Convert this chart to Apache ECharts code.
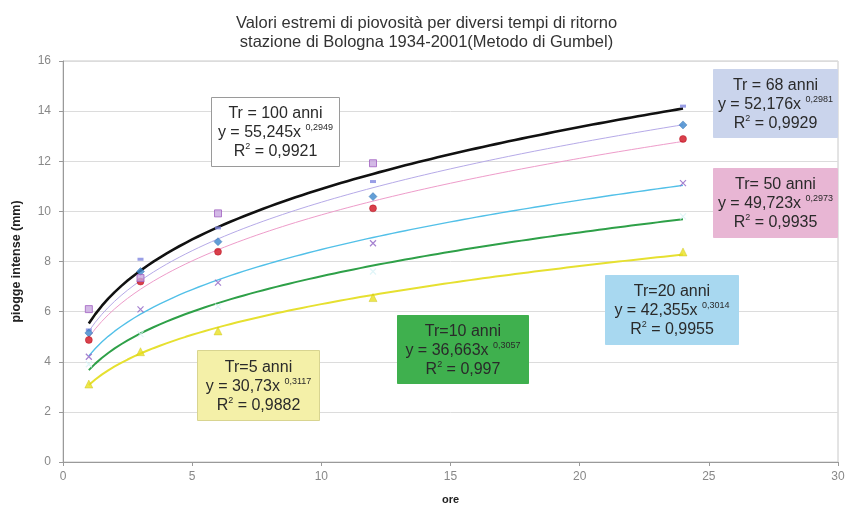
<!DOCTYPE html>
<html>
<head>
<meta charset="utf-8">
<script src="https://cdn.jsdelivr.net/npm/echarts@6/dist/echarts.min.js"></script>
<style>
  html, body { margin: 0; padding: 0; background: #fff; }
  #chart { width: 853px; height: 505px; }
</style>
</head>
<body>
<div id="chart"></div>
<script>
// Durations (hours) at which the annual maxima were evaluated
var durations = [1, 3, 6, 12, 24];

// Return periods and their Gumbel values (mm)
var returnLabels = ['Tr = 100 anni', 'Tr = 68 anni', 'Tr= 50 anni', 'Tr=20 anni', 'Tr=10 anni', 'Tr=5 anni'];
var tr100 = [5.27, 8.09, 9.34, 11.19, 14.2];
var tr68  = [5.15, 7.6, 8.79, 10.59, 13.45];
var tr50  = [4.87, 7.2, 8.39, 10.12, 12.89];
var tr20  = [4.2, 6.09, 7.16, 8.73, 11.13];
var tr10  = [3.9, 5.1, 6.2, 7.6, 9.8];
var tr5   = [3.11, 4.4, 5.23, 6.56, 8.38];
// extra points plotted without a trend line
var extraDur = [1, 3, 6, 12];
var extraVal = [6.1, 7.34, 9.92, 11.92];

// Power-law fits y = a x^b as printed in the boxes (a in tenths of the axis unit)
var fitA  = [55.245, 52.176, 49.723, 42.355, 36.663, 30.73];
var fitB  = [0.2949, 0.2981, 0.2973, 0.3014, 0.3057, 0.3117];
var fitR2 = ['0,9921', '0,9929', '0,9935', '0,9955', '0,997', '0,9882'];
var fitAtxt = ['55,245', '52,176', '49,723', '42,355', '36,663', '30,73'];
var fitBtxt = ['0,2949', '0,2981', '0,2973', '0,3014', '0,3057', '0,3117'];

var xTicks = [0, 5, 10, 15, 20, 25, 30];
var yTicks = [0, 2, 4, 6, 8, 10, 12, 14, 16];

var FONT = '"Liberation Sans", Arial, sans-serif';

function pairs(xs, ys) { return xs.map(function (x, i) { return [x, ys[i]]; }); }

function fitCurve(k) {
  var pts = [];
  for (var x = 1; x <= 24.0001; x += 0.25) {
    pts.push([x, fitA[k] / 10 * Math.pow(x, fitB[k])]);
  }
  return pts;
}

var lineColors = ['#111111', '#b6aae8', '#ee9cca', '#52c0e8', '#2ea048', '#e6e030'];
var lineWidths = [2.6, 1, 1, 1.4, 2, 2];

var series = [];
lineColors.forEach(function (c, k) {
  series.push({
    type: 'line', data: fitCurve(k), showSymbol: false, silent: true,
    lineStyle: { color: c, width: lineWidths[k] }, z: 2
  });
});

var xPath = 'path://M0,0L10,10M10,0L0,10';
function pts(name, data, symbol, size, fill, border, bw) {
  return {
    name: name, type: 'scatter', data: pairs(durations, data), symbol: symbol, symbolSize: size,
    itemStyle: { color: fill, borderColor: border, borderWidth: bw }, z: 5
  };
}
series.push(pts(returnLabels[0], tr100, 'rect', [6, 3], '#7f86e0', '#7f86e0', 0));
series.push(pts(returnLabels[1], tr68, 'diamond', 8, '#3c86cc', '#2a6aa8', 0.5));
series.push(pts(returnLabels[2], tr50, 'circle', 7, '#d0101e', '#b00010', 0.5));
series.push(pts(returnLabels[3], tr20, xPath, 6, 'none', '#8e62c4', 1.2));
series.push(pts(returnLabels[4], tr10, xPath, 6, 'none', '#d8f2f6', 1.2));
series.push(pts(returnLabels[5], tr5, 'triangle', 8, '#e8e020', '#c8c010', 0.5));
series.push({
  type: 'scatter', data: pairs(extraDur, extraVal), symbol: 'rect', symbolSize: 7,
  itemStyle: { color: '#c8a8e0', borderColor: '#a060c0', borderWidth: 1 }, z: 5
});

// Equation boxes
var boxes = [
  { k: 0, x: 211, y: 97,  w: 128, h: 69, fill: '#ffffff', stroke: '#9a9a9a' },
  { k: 1, x: 713, y: 69,  w: 124, h: 68, fill: '#cad4ec', stroke: null },
  { k: 2, x: 713, y: 168, w: 124, h: 69, fill: '#e8b6d4', stroke: null },
  { k: 3, x: 605, y: 275, w: 133, h: 69, fill: '#a8d8f0', stroke: null },
  { k: 4, x: 397, y: 315, w: 131, h: 68, fill: '#3fb04e', stroke: null },
  { k: 5, x: 197, y: 350, w: 122, h: 70, fill: '#f4f0a8', stroke: '#d8d490' }
];
var graphics = boxes.map(function (b) {
  var k = b.k;
  return {
    type: 'group', left: b.x, top: b.y, z: 100,
    children: [
      { type: 'rect', z: 100, shape: { x: 0, y: 0, width: b.w, height: b.h },
        style: { fill: b.fill, stroke: b.stroke || b.fill, lineWidth: 1 } },
      { type: 'text', z: 101, x: b.w / 2, y: b.h / 2 + 1,
        style: {
          text: returnLabels[k] + '\ny = ' + fitAtxt[k] + 'x {sup|' + fitBtxt[k] + '}\nR{sup|2} = ' + fitR2[k],
          align: 'center', verticalAlign: 'middle',
          font: '16px ' + FONT, fill: '#2a2a2a', lineHeight: 19,
          rich: {
            sup: { fontSize: 9, verticalAlign: 'top', lineHeight: 19, padding: [0, 0, 8, 0], fill: '#2a2a2a',
                   fontFamily: FONT }
          }
        } }
    ]
  };
});

var chart = echarts.init(document.getElementById('chart'));
chart.setOption({
  backgroundColor: '#ffffff',
  animation: false,
  title: {
    text: 'Valori estremi di piovosità per diversi tempi di ritorno\nstazione di Bologna 1934-2001(Metodo di Gumbel)',
    left: 'center', top: 9,
    textStyle: { fontFamily: FONT, fontSize: 16.5, fontWeight: 'normal', color: '#333', lineHeight: 19 }
  },
  grid: { left: 63, right: 15, top: 61, bottom: 43, outerBoundsMode: 'none', containLabel: false,
          show: true, borderColor: '#c8c8c8', borderWidth: 1 },
  xAxis: {
    type: 'value', min: 0, max: 30, interval: 5,
    name: 'ore', nameLocation: 'middle', nameGap: 32,
    nameTextStyle: { fontFamily: FONT, fontSize: 11, fontWeight: 'bold', color: '#222' },
    axisLine: { lineStyle: { color: '#9a9a9a' } },
    axisTick: { show: true, length: 4, lineStyle: { color: '#9a9a9a' } },
    axisLabel: { color: '#888', fontSize: 12, margin: 9, fontFamily: FONT,
                 formatter: function (v) { return xTicks.indexOf(v) >= 0 ? String(v) : ''; } },
    splitLine: { show: false }
  },
  yAxis: {
    type: 'value', min: 0, max: 16, interval: 2,
    name: 'piogge intense (mm)', nameLocation: 'middle', nameGap: 40, nameRotate: 90,
    nameTextStyle: { fontFamily: FONT, fontSize: 12.5, fontWeight: 'bold', color: '#222' },
    axisLine: { show: true, lineStyle: { color: '#9a9a9a' } },
    axisTick: { show: true, length: 4, lineStyle: { color: '#9a9a9a' } },
    axisLabel: { color: '#888', fontSize: 12, margin: 12, fontFamily: FONT,
                 formatter: function (v) { return yTicks.indexOf(v) >= 0 ? String(v) : ''; } },
    splitLine: { show: true, lineStyle: { color: '#dcdcdc', width: 1 } }
  },
  series: series,
  graphic: graphics
});
</script>
</body>
</html>
